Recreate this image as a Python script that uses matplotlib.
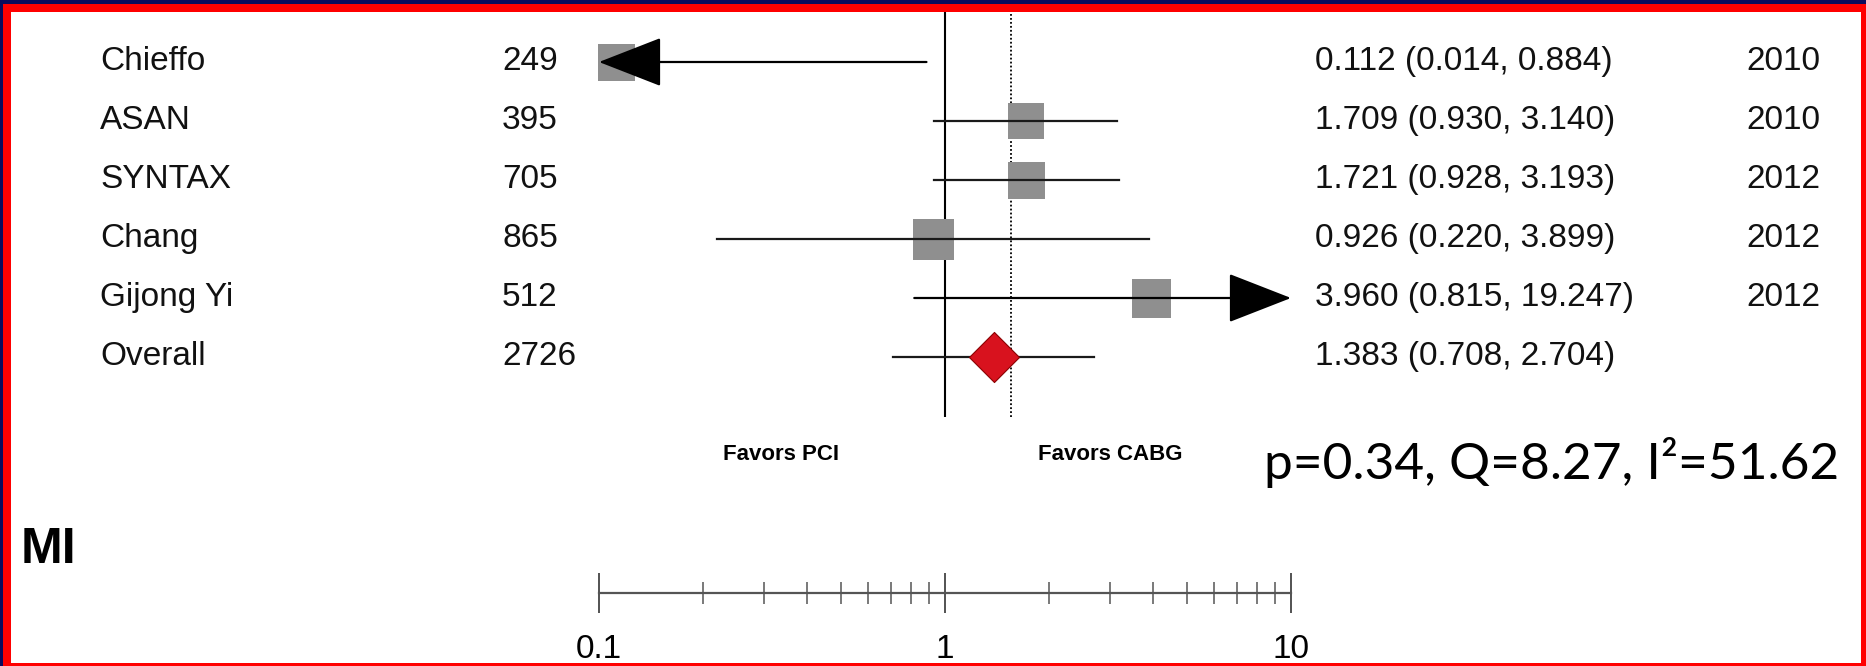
#forest plot of PCI vs CABG odds ratios for MI, with summary diamond and heterogeneity stats

import numpy as np
import matplotlib
matplotlib.use('Agg')
import matplotlib.pyplot as plt
from matplotlib.patches import Rectangle
from matplotlib import transforms
from matplotlib.ticker import LogLocator, NullFormatter

plt.rcParams['font.family']=['Liberation Sans','DejaVu Sans']

#study data
studies=['Chieffo','ASAN','SYNTAX','Chang','Gijong Yi']
n_patients=[249,395,705,865,512]
odds_ratio=[0.112,1.709,1.721,0.926,3.960]
ci_lower=[0.014,0.930,0.928,0.220,0.815]
ci_upper=[0.884,3.140,3.193,3.899,19.247]
years=[2010,2010,2012,2012,2012]
box_side=[37,36,37,41,39] #box side in pixels

overall_label='Overall'
overall_n=2726
overall_or=1.383
overall_ci=[0.708,2.704]

dotted_x=1.55 #dotted reference line

p_value=0.34
q_stat=8.27
i_squared=51.62

x_min,x_max=0.1,10.

W,H=1866,666
fig=plt.figure(figsize=(W/100,H/100),dpi=100,facecolor='white')

def fx(px):
    return px/W
def fy(py):
    return 1.-py/H

#slide frame
navy='#0b0b5c'
red='#ff0000'
for (x0,y0,x1,y1,c) in [(0,0,W,4,navy),(0,0,3,H,navy),
                        (3,4,W,12,red),(3,4,11,H,red),(1861,4,W,H,red),(3,663,W,H,red)]:
    fig.patches.append(Rectangle((fx(x0),fy(y1)),fx(x1)-fx(x0),fy(y0)-fy(y1),transform=fig.transFigure,
                                 facecolor=c,edgecolor='none',zorder=10))

#main forest axes
row0,row_step=62,59
top_px,bot_px=12,417
ax=fig.add_axes([fx(599),fy(bot_px),fx(1291)-fx(599),fy(top_px)-fy(bot_px)])
ax.set_xscale('log')
ax.set_xlim(x_min,x_max)
ax.set_ylim((bot_px-row0)/row_step,(top_px-row0)/row_step)
ax.axis('off')
ax.patch.set_alpha(0)

ax.axvline(1.,color='black',lw=1.5,zorder=1)
ax.axvline(dotted_x,color='black',lw=1.3,ls=(0,(1,1.2)),zorder=1)

arrow_style='-|>,head_length=2.05,head_width=0.8'
for i,(o,lo,hi,side) in enumerate(zip(odds_ratio,ci_lower,ci_upper,box_side)):
    ax.scatter([o],[i],marker='s',s=(side*0.72)**2,color='#8f8f8f',edgecolor='none',zorder=2,clip_on=False)
    if lo<x_min:
        ax.annotate('',xy=(x_min,i),xytext=(hi,i),
                    arrowprops=dict(arrowstyle=arrow_style,mutation_scale=20,color='black',lw=1.6,shrinkA=0,shrinkB=0),zorder=3)
    elif hi>x_max:
        ax.annotate('',xy=(x_max,i),xytext=(lo,i),
                    arrowprops=dict(arrowstyle=arrow_style,mutation_scale=20,color='black',lw=1.6,shrinkA=0,shrinkB=0),zorder=3)
    else:
        ax.plot([lo,hi],[i,i],color='#1a1a1a',lw=1.6,zorder=3)

k=len(studies)
ax.plot(overall_ci,[k,k],color='#1a1a1a',lw=1.6,zorder=3)
ax.scatter([overall_or],[k],marker='D',s=25.5**2,color='#d8121e',edgecolor='#8a0000',lw=0.8,zorder=4)

#text columns
trans=transforms.blended_transform_factory(fig.transFigure,ax.transData)
names=studies+[overall_label]
ns=n_patients+[overall_n]
ors=odds_ratio+[overall_or]
los=ci_lower+[overall_ci[0]]
his=ci_upper+[overall_ci[1]]
yrs=[str(y) for y in years]+['']
base_off=8./row_step
fs=24
for i,(name,n,o,lo,hi,yr) in enumerate(zip(names,ns,ors,los,his,yrs)):
    y=i+base_off
    ax.text(fx(100),y,name,transform=trans,fontsize=fs,va='baseline',color='#111111')
    ax.text(fx(502),y,str(n),transform=trans,fontsize=fs,va='baseline',color='#111111')
    ax.text(fx(1315),y,'{:.3f} ({:.3f}, {:.3f})'.format(o,lo,hi),transform=trans,fontsize=fs,va='baseline',color='#111111')
    ax.text(fx(1746),y,yr,transform=trans,fontsize=fs,va='baseline',color='#111111')

fav_y=(455-row0)/row_step
ax.text(0.335,fav_y,'Favors PCI',ha='center',va='center',fontsize=16,fontweight='bold')
ax.text(3.0,fav_y,'Favors CABG',ha='center',va='center',fontsize=16,fontweight='bold')

fig.text(fx(1264),fy(479),'p={}, Q={}, I\u00b2={}'.format(p_value,q_stat,i_squared),
         fontsize=37,family=['Lato','DejaVu Sans'],va='baseline')
fig.text(fx(21),fy(563),'MI',fontsize=36,fontweight='bold',va='baseline')

#log scale bar
ax2=fig.add_axes([fx(599),fy(593),fx(1291)-fx(599),0.02])
ax2.set_xscale('log')
ax2.set_xlim(x_min,x_max)
ax2.patch.set_alpha(0)
for s in ['left','right','top']:
    ax2.spines[s].set_visible(False)
ax2.spines['bottom'].set_color('#555555')
ax2.spines['bottom'].set_linewidth(1.6)
ax2.set_yticks([])
ax2.set_xticks([0.1,1,10])
ax2.set_xticklabels(['0.1','1','10'])
ax2.xaxis.set_minor_locator(LogLocator(base=10,subs=np.arange(2,10)))
ax2.xaxis.set_minor_formatter(NullFormatter())
ax2.tick_params(axis='x',which='major',direction='inout',length=29,width=1.3,color='#444444',labelsize=24,pad=15)
ax2.tick_params(axis='x',which='minor',direction='inout',length=16,width=1.1,color='#555555')

fig.savefig('out.png',dpi=100)
